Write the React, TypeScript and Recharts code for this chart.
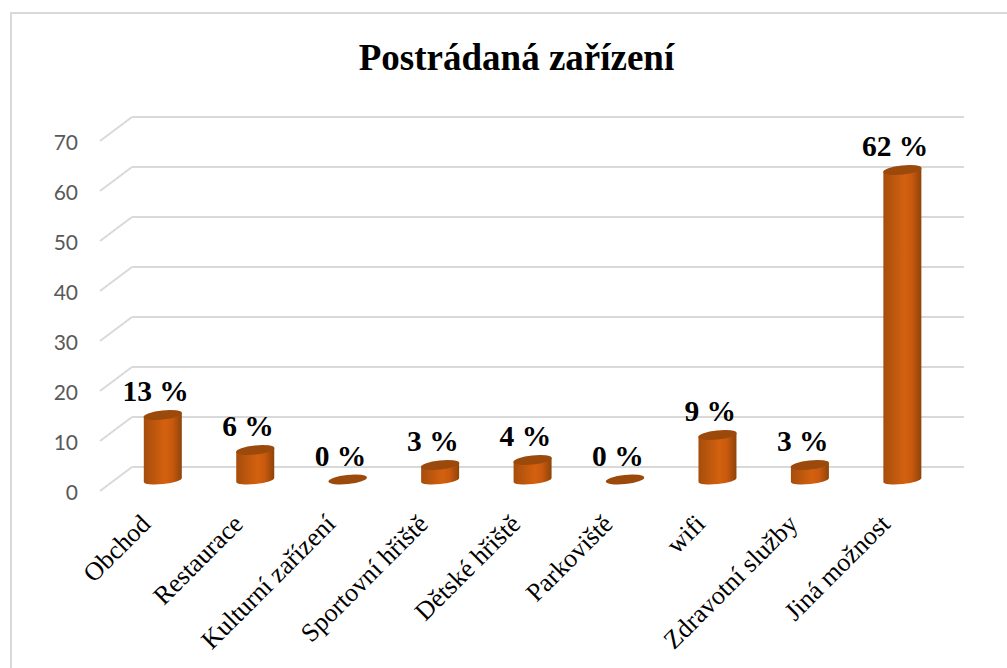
import React from "react";
import { BarChart, Bar, XAxis, YAxis, CartesianGrid, LabelList } from "recharts";

const title = "Postrádaná zařízení";
const categories = ["Obchod", "Restaurace", "Kulturní zařízení", "Sportovní hřiště", "Dětské hřiště", "Parkoviště", "wifi", "Zdravotní služby", "Jiná možnost"];
const values = [13, 6, 0, 3, 4, 0, 9, 3, 62];
const yTicks = [0, 10, 20, 30, 40, 50, 60, 70];
const rows = categories.map((name, i) => ({ name, value: values[i] }));

const SERIF = "'Liberation Serif', serif";
const GRID = "#d9d9d9";
const SHIFT_X = -15.2; // perspective shift of the floor relative to the back wall
const SLANT_X = -32;
const SLANT_Y = 24;
const RX = 19;
const RY = 4;
const TILT = 2;

function Cylinder(props: any) {
  const { x, y, width, height, index } = props;
  const cx = x + width / 2 + SHIFT_X;
  const bottom = y + height + 13;
  const top = Math.min(y + 13, bottom - 1);
  const id = `cyl-${index}`;
  const l = cx - RX;
  const r = cx + RX;
  const capY = height > 0 ? top : bottom - 0.5;
  return (
    <g>
      <defs>
        <linearGradient id={id} x1="0" y1="0" x2="1" y2="0">
          <stop offset="0%" stopColor="#a64d0c" />
          <stop offset="55%" stopColor="#d3610f" />
          <stop offset="75%" stopColor="#c9590e" />
          <stop offset="100%" stopColor="#8e4409" />
        </linearGradient>
      </defs>
      {height > 0 && (
        <path
          d={`M${l},${top + TILT} L${r},${top - TILT} L${r},${bottom - TILT} A${RX} ${RY} -6 0 1 ${l},${bottom + TILT} Z`}
          fill={`url(#${id})`}
        />
      )}
      <ellipse cx={cx} cy={capY} rx={RX + 0.3} ry={RY + 0.6} transform={`rotate(-6 ${cx} ${capY})`} fill="#9c4a0c" />
    </g>
  );
}

function ValueLabel(props: any) {
  const { x, y, width, value } = props;
  return (
    <text x={x + width / 2 + SHIFT_X - 7.2} y={y - 1.5} textAnchor="middle" fontFamily={SERIF} fontWeight="bold" fontSize={29.5} fill="#000">
      {`${value} %`}
    </text>
  );
}

function CategoryTick(props: any) {
  const { x, y, payload } = props;
  const tx = x + SHIFT_X - 11;
  const ty = y + 58.5;
  return (
    <text x={tx} y={ty} textAnchor="end" transform={`rotate(-45 ${tx} ${ty})`} fontFamily={SERIF} fontSize={26} fill="#000">
      {payload.value}
    </text>
  );
}

function ValueTick(props: any) {
  const { x, y, payload } = props;
  return (
    <g>
      <line x1={x} y1={y} x2={x + SLANT_X} y2={y + SLANT_Y} stroke={GRID} strokeWidth={2} />
      <text x={x + SLANT_X - 22} y={y + SLANT_Y + 9} textAnchor="end" fontFamily="Lato, sans-serif" fontSize={21} fill="#595959">
        {payload.value}
      </text>
    </g>
  );
}

export default function App() {
  return (
    <div style={{ position: "absolute", left: 0, top: 0, width: 1007, height: 668, overflow: "hidden", background: "#fff" }}>
      <div style={{ position: "absolute", left: 10, top: 12, right: -4, bottom: -4, borderLeft: `2px solid ${GRID}`, borderTop: `2px solid ${GRID}` }} />
      <div style={{ position: "absolute", left: 0, width: 1033, top: 37, textAlign: "center", fontFamily: SERIF, fontWeight: "bold", fontSize: 37, lineHeight: "42px", color: "#000" }}>
        {title}
      </div>
      <div style={{ position: "absolute", left: 0, top: 0 }}>
        <BarChart width={1007} height={668} data={rows} margin={{ top: 117, right: 43, left: 131, bottom: 200 }} barCategoryGap={0}>
          <CartesianGrid vertical={false} horizontal stroke={GRID} strokeWidth={2} />
          <XAxis dataKey="name" height={1} axisLine={false} tickLine={false} tickSize={0} tickMargin={0} interval={0} tick={CategoryTick} />
          <YAxis width={1} domain={[0, 70]} ticks={yTicks} axisLine={false} tickLine={false} tickSize={0} tickMargin={0} tick={ValueTick} interval={0} />
          <Bar dataKey="value" barSize={38} isAnimationActive={false} shape={Cylinder}>
            <LabelList dataKey="value" content={ValueLabel} />
          </Bar>
        </BarChart>
      </div>
    </div>
  );
}
